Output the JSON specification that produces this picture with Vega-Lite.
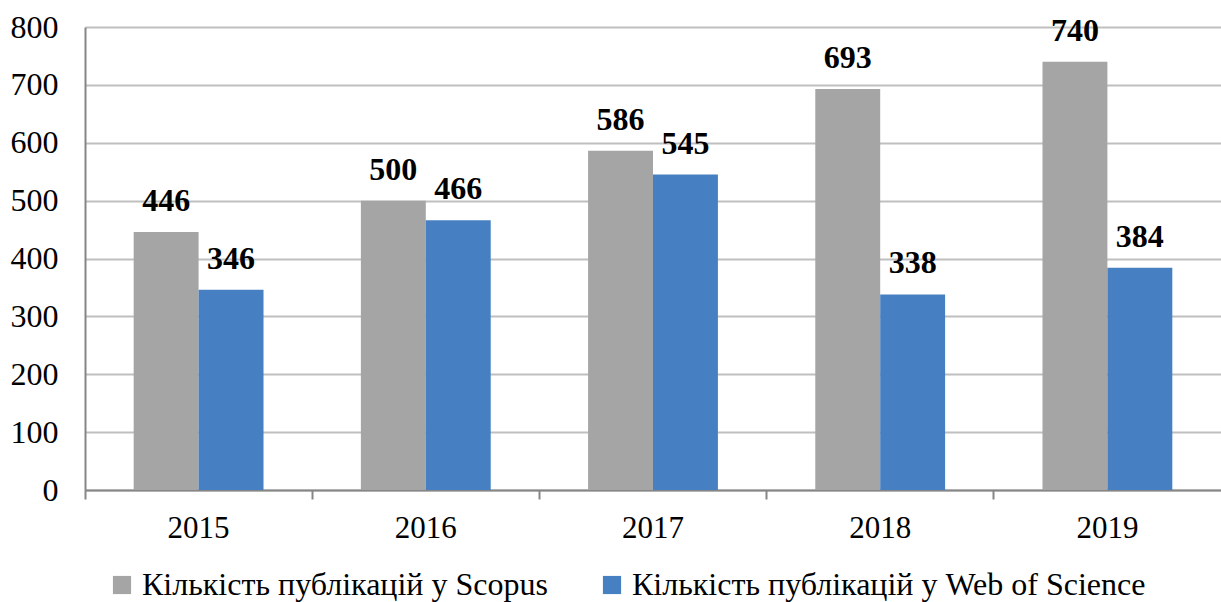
{
  "$schema": "https://vega.github.io/schema/vega-lite/v6.json",
  "autosize": {"type": "none"},
  "padding": {"left": 85, "top": 27, "right": 0, "bottom": 112},
  "width": 1136,
  "height": 463,
  "background": "white",
  "config": {
    "view": {"stroke": null},
    "font": "Liberation Serif",
    "style": {"guide-label": {"font": "Liberation Serif"}},
    "axis": {"labelFont": "Liberation Serif", "labelFontSize": 31, "labelColor": "black", "title": null},
    "legend": {"labelFont": "Liberation Serif"}
  },
  "data": {
    "values": [
      {"year": "2015", "series": "Кількість публікацій у Scopus", "value": 446},
      {"year": "2015", "series": "Кількість публікацій у Web of Science", "value": 346},
      {"year": "2016", "series": "Кількість публікацій у Scopus", "value": 500},
      {"year": "2016", "series": "Кількість публікацій у Web of Science", "value": 466},
      {"year": "2017", "series": "Кількість публікацій у Scopus", "value": 586},
      {"year": "2017", "series": "Кількість публікацій у Web of Science", "value": 545},
      {"year": "2018", "series": "Кількість публікацій у Scopus", "value": 693},
      {"year": "2018", "series": "Кількість публікацій у Web of Science", "value": 338},
      {"year": "2019", "series": "Кількість публікацій у Scopus", "value": 740},
      {"year": "2019", "series": "Кількість публікацій у Web of Science", "value": 384}
    ]
  },
  "encoding": {
    "x": {
      "field": "year", "type": "nominal",
      "scale": {"paddingInner": 0, "paddingOuter": 0},
      "axis": {
        "labelAngle": 0, "bandPosition": 0, "labelPadding": 14, "tickSize": 9,
        "tickColor": "#868686", "domainColor": "#868686", "domainWidth": 2, "tickWidth": 2,
        "grid": false, "labelBound": false
      }
    },
    "xOffset": {"field": "series", "type": "nominal", "scale": {"paddingInner": 0, "paddingOuter": 0.75}},
    "y": {
      "field": "value", "type": "quantitative",
      "scale": {"domain": [0, 800], "nice": false},
      "axis": {
        "values": [0, 100, 200, 300, 400, 500, 600, 700, 800],
        "tickSize": 0, "labelPadding": 27, "domainColor": "#868686", "domainWidth": 2,
        "grid": true, "gridColor": "#bfbfbf", "gridWidth": 2,
        "labelFont": "Liberation Serif", "labelFontSize": 32
      }
    }
  },
  "layer": [
    {
      "mark": {"type": "bar"},
      "encoding": {
        "color": {
          "field": "series", "type": "nominal",
          "scale": {"range": ["#a5a5a5", "#4780c2"]},
          "legend": {
            "title": null, "orient": "none", "direction": "horizontal",
            "legendX": 21, "legendY": 542,
            "symbolType": "square", "symbolSize": 330, "symbolStrokeWidth": 0,
            "labelFont": "Liberation Serif", "labelFontSize": 32, "labelColor": "black",
            "labelOffset": 4, "columnPadding": 48, "labelLimit": 800
          }
        }
      }
    },
    {
      "mark": {"type": "text", "baseline": "alphabetic", "dy": -21, "fontSize": 32, "fontWeight": "bold", "font": "Liberation Serif", "color": "black"},
      "encoding": {"text": {"field": "value", "type": "quantitative"}}
    }
  ]
}
